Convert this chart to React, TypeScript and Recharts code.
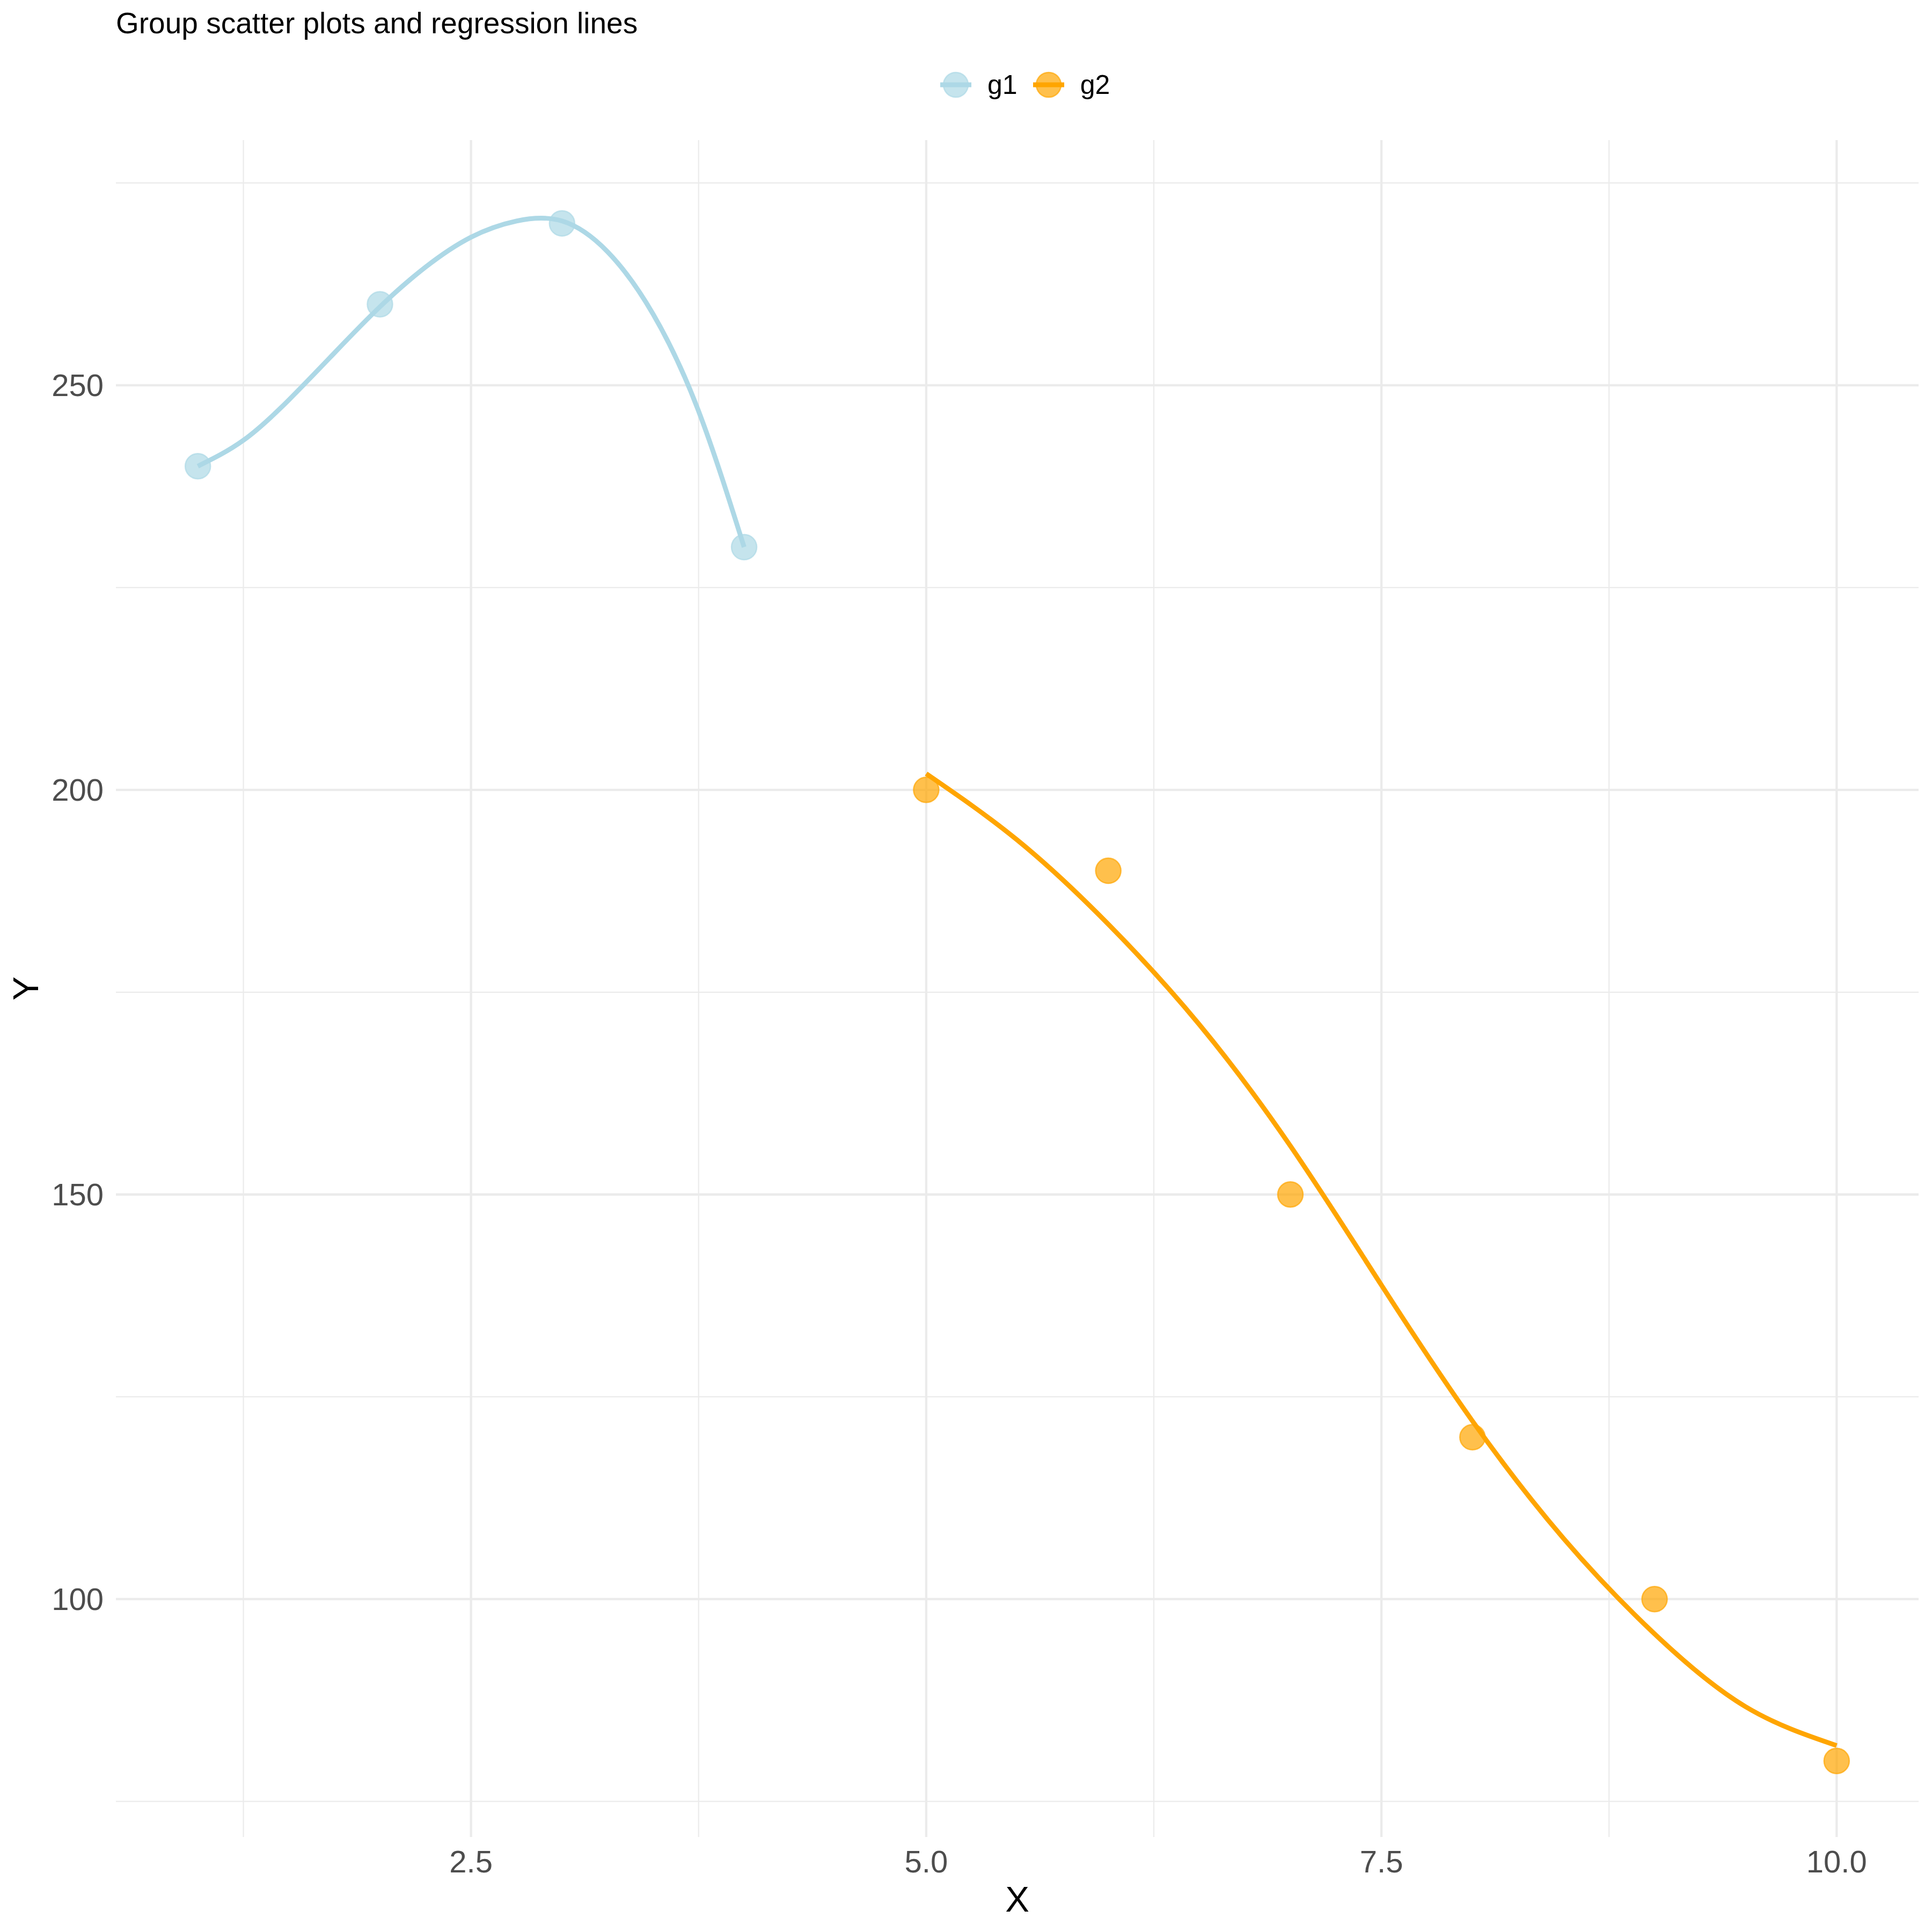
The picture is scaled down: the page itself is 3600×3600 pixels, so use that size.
import {
  ComposedChart,
  Scatter,
  Line,
  XAxis,
  YAxis,
  CartesianGrid,
  Label,
} from "recharts";

const FONT = "'Liberation Sans', Arial, Helvetica, sans-serif";

// observed points
const g1X = [1, 2, 3, 4];
const g1Y = [240, 260, 270, 230];
const g2X = [5, 6, 7, 8, 9, 10];
const g2Y = [200, 190, 150, 120, 100, 80];

// fitted curves
const fit1X = [1, 1.25, 1.5, 1.75, 2, 2.25, 2.5, 2.75, 3, 3.25, 3.5, 3.75, 4];
const fit1Y = [240, 243.2, 248.2, 254.0, 259.7, 264.6, 268.3, 270.3, 270.3, 266.5, 258.8, 246.8, 230];
const fit2X = [5, 5.5, 6, 6.5, 7, 7.5, 8, 8.5, 9, 9.5, 10];
const fit2Y = [202, 193.8, 183.4, 171, 156, 138.8, 122, 107.5, 95.7, 86.7, 81.9];

// axis ticks and grid
const xTicks = [2.5, 5, 7.5, 10];
const xMinor = [1.25, 3.75, 6.25, 8.75];
const yTicks = [100, 150, 200, 250];
const yMinor = [75, 125, 175, 225, 275];

const groups = [
  { name: "g1", color: "#ADD8E6" },
  { name: "g2", color: "#FFA500" },
];

const zip = (xs: number[], ys: number[]) => xs.map((x, i) => ({ x, y: ys[i] }));

const g1Points = zip(g1X, g1Y);
const g2Points = zip(g2X, g2Y);
const g1Fit = zip(fit1X, fit1Y);
const g2Fit = zip(fit2X, fit2Y);

function makeDot(color: string) {
  return (props: { cx?: number; cy?: number }) => (
    <circle
      cx={props.cx}
      cy={props.cy}
      r={23.5}
      fill={color}
      fillOpacity={0.7}
      stroke={color}
      strokeOpacity={0.7}
      strokeWidth={2.5}
    />
  );
}

function LegendKey({ color }: { color: string }) {
  return (
    <svg width={58} height={50} style={{ display: "block" }}>
      <circle
        cx={29}
        cy={25}
        r={23}
        fill={color}
        fillOpacity={0.7}
        stroke={color}
        strokeOpacity={0.7}
        strokeWidth={2.5}
      />
      <line x1={0} x2={58} y1={25} y2={25} stroke={color} strokeWidth={8.9} />
    </svg>
  );
}

export default function App() {
  return (
    <div
      style={{
        position: "absolute",
        left: 0,
        top: 0,
        width: 3600,
        height: 3600,
        background: "#fff",
        fontFamily: FONT,
      }}
    >
      <div
        style={{
          position: "absolute",
          left: 216,
          top: 16,
          fontSize: 55,
          lineHeight: "55px",
          color: "#000",
          whiteSpace: "nowrap",
        }}
      >
        Group scatter plots and regression lines
      </div>

      <div
        style={{
          position: "absolute",
          left: 1752,
          top: 133,
          height: 50,
          display: "flex",
          alignItems: "center",
          fontSize: 50,
          lineHeight: "50px",
          color: "#000",
        }}
      >
        {groups.map((g, i) => (
          <div
            key={g.name}
            style={{ display: "flex", alignItems: "center", marginLeft: i === 0 ? 0 : 29 }}
          >
            <LegendKey color={g.color} />
            <span style={{ marginLeft: 30 }}>{g.name}</span>
          </div>
        ))}
      </div>

      <ComposedChart
        width={3600}
        height={3600}
        margin={{ top: 261, right: 25, bottom: 0, left: 0 }}
        style={{ position: "absolute", left: 0, top: 0 }}
      >
        <CartesianGrid
          verticalValues={xMinor}
          horizontalValues={yMinor}
          stroke="#EBEBEB"
          strokeWidth={2.2}
        />
        <CartesianGrid
          verticalValues={xTicks}
          horizontalValues={yTicks}
          stroke="#EBEBEB"
          strokeWidth={4.3}
        />
        <XAxis
          type="number"
          dataKey="x"
          domain={[0.55, 10.45]}
          allowDataOverflow
          ticks={xTicks}
          tickFormatter={(v: number) => v.toFixed(1)}
          height={177}
          axisLine={false}
          tickLine={false}
          tickSize={0}
          tickMargin={25}
          tick={{ fontSize: 58, fill: "#4D4D4D", fontFamily: FONT }}
        >
          <Label
            value="X"
            position="insideBottom"
            offset={38}
            style={{ fontSize: 67, fill: "#000", fontFamily: FONT }}
          />
        </XAxis>
        <YAxis
          type="number"
          dataKey="y"
          domain={[70.6, 280.3]}
          allowDataOverflow
          ticks={yTicks}
          width={216}
          axisLine={false}
          tickLine={false}
          tickSize={0}
          tickMargin={23}
          tick={{ fontSize: 58, fill: "#4D4D4D", fontFamily: FONT }}
        >
          <Label
            value="Y"
            angle={-90}
            position="insideLeft"
            offset={47}
            style={{ fontSize: 67, fill: "#000", fontFamily: FONT, textAnchor: "middle" }}
          />
        </YAxis>

        <Scatter
          name="g1"
          data={g1Points}
          dataKey="y"
          shape={makeDot(groups[0].color)}
          isAnimationActive={false}
        />
        <Scatter
          name="g2"
          data={g2Points}
          dataKey="y"
          shape={makeDot(groups[1].color)}
          isAnimationActive={false}
        />
        <Line
          data={g1Fit}
          dataKey="y"
          type="natural"
          stroke={groups[0].color}
          strokeWidth={8.9}
          dot={false}
          activeDot={false}
          isAnimationActive={false}
        />
        <Line
          data={g2Fit}
          dataKey="y"
          type="natural"
          stroke={groups[1].color}
          strokeWidth={8.9}
          dot={false}
          activeDot={false}
          isAnimationActive={false}
        />
      </ComposedChart>
    </div>
  );
}
